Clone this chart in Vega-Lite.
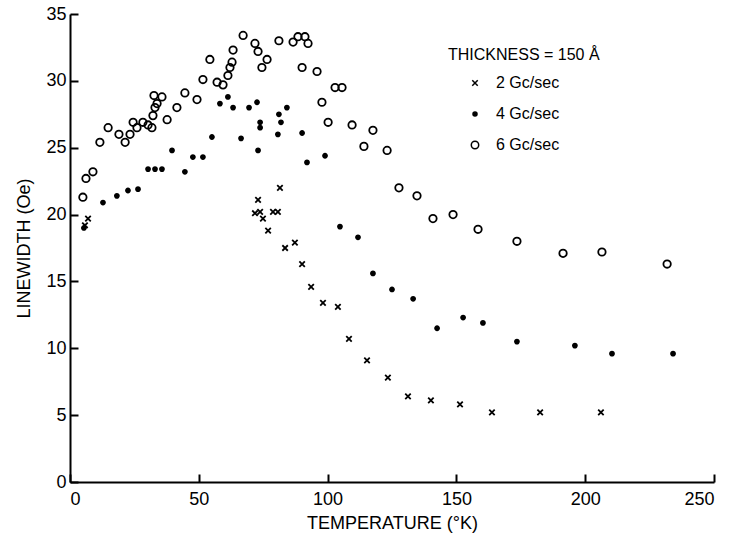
{
  "$schema": "https://vega.github.io/schema/vega-lite/v6.json",
  "width": 644,
  "height": 468,
  "autosize": "none",
  "padding": {"left": 70, "top": 14, "right": 17, "bottom": 63},
  "background": "white",
  "config": {
    "view": {"stroke": null},
    "font": "Liberation Sans",
    "axis": {
      "domainColor": "black", "domainWidth": 2,
      "tickColor": "black", "tickWidth": 2, "tickSize": -8,
      "labelColor": "black", "labelFontSize": 18, "labelFont": "Liberation Sans",
      "titleFontSize": 18, "titleFontWeight": "normal", "titleColor": "black", "titleFont": "Liberation Sans",
      "grid": false
    },
    "legend": {
      "orient": "none", "legendX": 378, "legendY": 33,
      "titleFontSize": 16, "titleFontWeight": "normal", "titleColor": "black", "titleFont": "Liberation Sans",
      "labelFontSize": 16, "labelColor": "black", "labelFont": "Liberation Sans",
      "symbolOffset": 19, "labelOffset": 13, "rowPadding": 15, "titlePadding": 12
    }
  },
  "data": {"values": [
    {"series": "6 Gc/sec", "T": 5.0, "LW": 21.3},
    {"series": "6 Gc/sec", "T": 6.2, "LW": 22.7},
    {"series": "6 Gc/sec", "T": 8.9, "LW": 23.2},
    {"series": "6 Gc/sec", "T": 11.6, "LW": 25.4},
    {"series": "6 Gc/sec", "T": 14.8, "LW": 26.5},
    {"series": "6 Gc/sec", "T": 19.0, "LW": 26.0},
    {"series": "6 Gc/sec", "T": 21.4, "LW": 25.4},
    {"series": "6 Gc/sec", "T": 23.3, "LW": 26.0},
    {"series": "6 Gc/sec", "T": 24.5, "LW": 26.9},
    {"series": "6 Gc/sec", "T": 26.0, "LW": 26.5},
    {"series": "6 Gc/sec", "T": 28.3, "LW": 26.9},
    {"series": "6 Gc/sec", "T": 30.3, "LW": 26.7},
    {"series": "6 Gc/sec", "T": 31.8, "LW": 26.5},
    {"series": "6 Gc/sec", "T": 32.2, "LW": 27.4},
    {"series": "6 Gc/sec", "T": 33.0, "LW": 28.0},
    {"series": "6 Gc/sec", "T": 33.8, "LW": 28.3},
    {"series": "6 Gc/sec", "T": 32.6, "LW": 28.9},
    {"series": "6 Gc/sec", "T": 35.7, "LW": 28.8},
    {"series": "6 Gc/sec", "T": 37.7, "LW": 27.1},
    {"series": "6 Gc/sec", "T": 41.5, "LW": 28.0},
    {"series": "6 Gc/sec", "T": 44.6, "LW": 29.1},
    {"series": "6 Gc/sec", "T": 49.3, "LW": 28.6},
    {"series": "6 Gc/sec", "T": 51.6, "LW": 30.1},
    {"series": "6 Gc/sec", "T": 54.3, "LW": 31.6},
    {"series": "6 Gc/sec", "T": 57.1, "LW": 29.9},
    {"series": "6 Gc/sec", "T": 59.4, "LW": 29.7},
    {"series": "6 Gc/sec", "T": 61.3, "LW": 30.4},
    {"series": "6 Gc/sec", "T": 62.1, "LW": 31.0},
    {"series": "6 Gc/sec", "T": 62.9, "LW": 31.4},
    {"series": "6 Gc/sec", "T": 63.3, "LW": 32.3},
    {"series": "6 Gc/sec", "T": 67.2, "LW": 33.4},
    {"series": "6 Gc/sec", "T": 71.8, "LW": 32.8},
    {"series": "6 Gc/sec", "T": 73.0, "LW": 32.2},
    {"series": "6 Gc/sec", "T": 74.5, "LW": 31.0},
    {"series": "6 Gc/sec", "T": 76.5, "LW": 31.6},
    {"series": "6 Gc/sec", "T": 81.1, "LW": 33.0},
    {"series": "6 Gc/sec", "T": 86.6, "LW": 32.9},
    {"series": "6 Gc/sec", "T": 88.5, "LW": 33.3},
    {"series": "6 Gc/sec", "T": 91.2, "LW": 33.3},
    {"series": "6 Gc/sec", "T": 92.4, "LW": 32.8},
    {"series": "6 Gc/sec", "T": 90.1, "LW": 31.0},
    {"series": "6 Gc/sec", "T": 95.9, "LW": 30.7},
    {"series": "6 Gc/sec", "T": 97.8, "LW": 28.4},
    {"series": "6 Gc/sec", "T": 102.9, "LW": 29.5},
    {"series": "6 Gc/sec", "T": 105.6, "LW": 29.5},
    {"series": "6 Gc/sec", "T": 100.2, "LW": 26.9},
    {"series": "6 Gc/sec", "T": 109.5, "LW": 26.7},
    {"series": "6 Gc/sec", "T": 117.6, "LW": 26.3},
    {"series": "6 Gc/sec", "T": 114.1, "LW": 25.1},
    {"series": "6 Gc/sec", "T": 123.1, "LW": 24.8},
    {"series": "6 Gc/sec", "T": 127.7, "LW": 22.0},
    {"series": "6 Gc/sec", "T": 134.7, "LW": 21.4},
    {"series": "6 Gc/sec", "T": 140.9, "LW": 19.7},
    {"series": "6 Gc/sec", "T": 148.7, "LW": 20.0},
    {"series": "6 Gc/sec", "T": 158.4, "LW": 18.9},
    {"series": "6 Gc/sec", "T": 173.5, "LW": 18.0},
    {"series": "6 Gc/sec", "T": 191.4, "LW": 17.1},
    {"series": "6 Gc/sec", "T": 206.5, "LW": 17.2},
    {"series": "6 Gc/sec", "T": 231.8, "LW": 16.3},
    {"series": "4 Gc/sec", "T": 5.4, "LW": 19.0},
    {"series": "4 Gc/sec", "T": 12.8, "LW": 20.9},
    {"series": "4 Gc/sec", "T": 18.2, "LW": 21.4},
    {"series": "4 Gc/sec", "T": 22.5, "LW": 21.8},
    {"series": "4 Gc/sec", "T": 26.4, "LW": 21.9},
    {"series": "4 Gc/sec", "T": 30.3, "LW": 23.4},
    {"series": "4 Gc/sec", "T": 33.0, "LW": 23.4},
    {"series": "4 Gc/sec", "T": 35.7, "LW": 23.4},
    {"series": "4 Gc/sec", "T": 39.6, "LW": 24.8},
    {"series": "4 Gc/sec", "T": 44.6, "LW": 23.2},
    {"series": "4 Gc/sec", "T": 47.7, "LW": 24.3},
    {"series": "4 Gc/sec", "T": 51.6, "LW": 24.3},
    {"series": "4 Gc/sec", "T": 55.1, "LW": 25.8},
    {"series": "4 Gc/sec", "T": 58.2, "LW": 28.3},
    {"series": "4 Gc/sec", "T": 61.3, "LW": 28.8},
    {"series": "4 Gc/sec", "T": 63.3, "LW": 28.0},
    {"series": "4 Gc/sec", "T": 66.4, "LW": 25.7},
    {"series": "4 Gc/sec", "T": 69.5, "LW": 28.0},
    {"series": "4 Gc/sec", "T": 72.6, "LW": 28.4},
    {"series": "4 Gc/sec", "T": 73.0, "LW": 24.8},
    {"series": "4 Gc/sec", "T": 73.8, "LW": 26.5},
    {"series": "4 Gc/sec", "T": 73.8, "LW": 26.9},
    {"series": "4 Gc/sec", "T": 80.7, "LW": 26.0},
    {"series": "4 Gc/sec", "T": 81.1, "LW": 27.5},
    {"series": "4 Gc/sec", "T": 81.9, "LW": 26.9},
    {"series": "4 Gc/sec", "T": 84.2, "LW": 28.0},
    {"series": "4 Gc/sec", "T": 90.1, "LW": 26.1},
    {"series": "4 Gc/sec", "T": 92.0, "LW": 23.9},
    {"series": "4 Gc/sec", "T": 99.0, "LW": 24.4},
    {"series": "4 Gc/sec", "T": 104.8, "LW": 19.1},
    {"series": "4 Gc/sec", "T": 111.8, "LW": 18.3},
    {"series": "4 Gc/sec", "T": 117.6, "LW": 15.6},
    {"series": "4 Gc/sec", "T": 125.0, "LW": 14.4},
    {"series": "4 Gc/sec", "T": 133.2, "LW": 13.7},
    {"series": "4 Gc/sec", "T": 142.5, "LW": 11.5},
    {"series": "4 Gc/sec", "T": 152.6, "LW": 12.3},
    {"series": "4 Gc/sec", "T": 160.3, "LW": 11.9},
    {"series": "4 Gc/sec", "T": 173.5, "LW": 10.5},
    {"series": "4 Gc/sec", "T": 196.0, "LW": 10.2},
    {"series": "4 Gc/sec", "T": 210.4, "LW": 9.6},
    {"series": "4 Gc/sec", "T": 234.1, "LW": 9.6},
    {"series": "2 Gc/sec", "T": 7.0, "LW": 19.7},
    {"series": "2 Gc/sec", "T": 5.8, "LW": 19.2},
    {"series": "2 Gc/sec", "T": 71.8, "LW": 20.1},
    {"series": "2 Gc/sec", "T": 73.0, "LW": 21.1},
    {"series": "2 Gc/sec", "T": 73.8, "LW": 20.2},
    {"series": "2 Gc/sec", "T": 74.9, "LW": 19.7},
    {"series": "2 Gc/sec", "T": 76.9, "LW": 18.8},
    {"series": "2 Gc/sec", "T": 78.8, "LW": 20.2},
    {"series": "2 Gc/sec", "T": 80.7, "LW": 20.2},
    {"series": "2 Gc/sec", "T": 81.5, "LW": 22.0},
    {"series": "2 Gc/sec", "T": 83.5, "LW": 17.5},
    {"series": "2 Gc/sec", "T": 87.3, "LW": 17.9},
    {"series": "2 Gc/sec", "T": 90.1, "LW": 16.3},
    {"series": "2 Gc/sec", "T": 93.6, "LW": 14.6},
    {"series": "2 Gc/sec", "T": 98.2, "LW": 13.4},
    {"series": "2 Gc/sec", "T": 104.0, "LW": 13.1},
    {"series": "2 Gc/sec", "T": 108.3, "LW": 10.7},
    {"series": "2 Gc/sec", "T": 115.3, "LW": 9.1},
    {"series": "2 Gc/sec", "T": 123.4, "LW": 7.8},
    {"series": "2 Gc/sec", "T": 131.2, "LW": 6.4},
    {"series": "2 Gc/sec", "T": 140.1, "LW": 6.1},
    {"series": "2 Gc/sec", "T": 151.4, "LW": 5.8},
    {"series": "2 Gc/sec", "T": 163.8, "LW": 5.2},
    {"series": "2 Gc/sec", "T": 182.5, "LW": 5.2},
    {"series": "2 Gc/sec", "T": 206.1, "LW": 5.2}
  ]},
  "mark": {"type": "point", "filled": false, "strokeWidth": 1.8, "opacity": 1},
  "encoding": {
    "x": {"field": "T", "type": "quantitative",
      "scale": {"domain": [0, 250], "nice": false},
      "axis": {"title": "TEMPERATURE (°K)", "values": [0, 50, 100, 150, 200, 250], "labelPadding": 16, "titlePadding": 6}},
    "y": {"field": "LW", "type": "quantitative",
      "scale": {"domain": [0, 35], "nice": false},
      "axis": {"title": "LINEWIDTH (Oe)", "values": [0, 5, 10, 15, 20, 25, 30, 35], "labelPadding": 12, "titlePadding": 12}},
    "shape": {"field": "series", "type": "nominal", "title": "THICKNESS = 150 Å",
      "scale": {"domain": ["2 Gc/sec", "4 Gc/sec", "6 Gc/sec"], "range": ["M-1,-1L1,1M1,-1L-1,1", "circle", "circle"]}},
    "size": {"field": "series", "type": "nominal", "title": "THICKNESS = 150 Å",
      "scale": {"type": "ordinal", "domain": ["2 Gc/sec", "4 Gc/sec", "6 Gc/sec"], "range": [30, 16, 55]}},
    "fill": {"field": "series", "type": "nominal", "title": "THICKNESS = 150 Å",
      "scale": {"domain": ["2 Gc/sec", "4 Gc/sec", "6 Gc/sec"], "range": ["transparent", "black", "transparent"]}},
    "stroke": {"field": "series", "type": "nominal", "title": "THICKNESS = 150 Å",
      "scale": {"domain": ["2 Gc/sec", "4 Gc/sec", "6 Gc/sec"], "range": ["black", "black", "black"]}}
  }
}
